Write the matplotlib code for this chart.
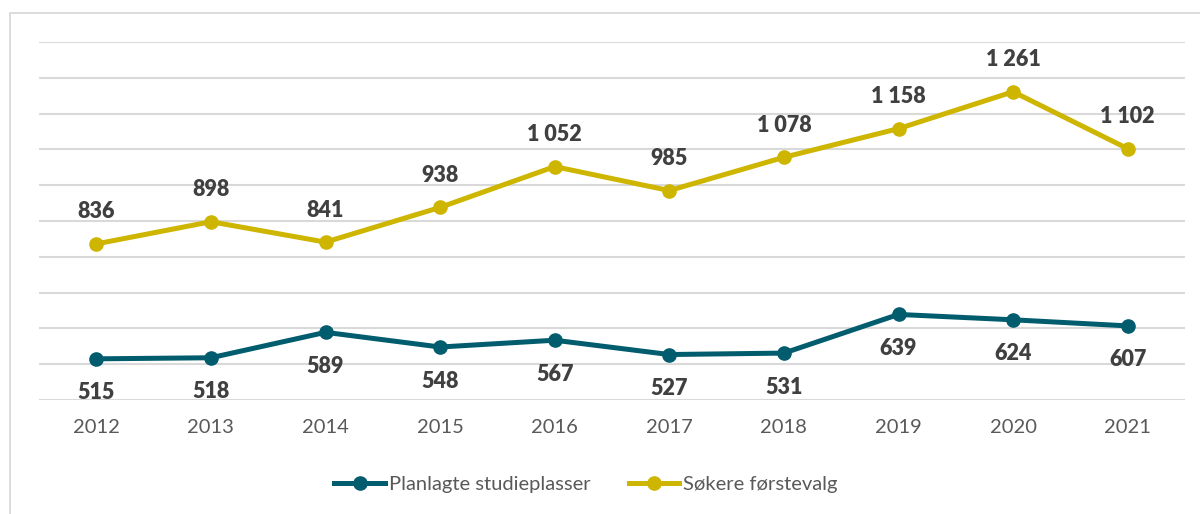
""" Planlagte studieplasser og søkere førstevalg 2012-2021 """
import matplotlib
matplotlib.use('Agg')
import matplotlib.pyplot as plt
from matplotlib.lines import Line2D

years = ['2012', '2013', '2014', '2015', '2016', '2017', '2018', '2019', '2020', '2021']
planlagte = [515, 518, 589, 548, 567, 527, 531, 639, 624, 607]
sokere = [836, 898, 841, 938, 1052, 985, 1078, 1158, 1261, 1102]

TEAL = '#015C6E'
YELLOW = '#CDB500'
GRID = '#D9D9D9'
TEXT = '#404040'
TICK = '#595959'

plt.rcParams['font.family'] = ['Lato', 'DejaVu Sans']


def fmt(v):
    return f'{v:,}'.replace(',', ' ')


fig = plt.figure(figsize=(12, 5.14), dpi=100)
ax = fig.add_axes([39 / 1200, 1 - 400 / 514, (1185 - 39) / 1200, (400 - 42) / 514])

x = list(range(len(years)))
ax.plot(x, planlagte, color=TEAL, lw=3.6, marker='o', ms=9.5,
        label='Planlagte studieplasser', zorder=3)
ax.plot(x, sokere, color=YELLOW, lw=3.6, marker='o', ms=9.5,
        label='Søkere førstevalg', zorder=3)

for i, v in enumerate(planlagte):
    ax.annotate(fmt(v), (i, v), xytext=(0, -24.5), textcoords='offset points',
                ha='center', va='center', fontsize=15.5, fontweight='heavy', color=TEXT)
for i, v in enumerate(sokere):
    ax.annotate(fmt(v), (i, v), xytext=(0, 23), textcoords='offset points',
                ha='center', va='center', fontsize=15.5, fontweight='heavy', color=TEXT)

ax.set_xlim(-0.5, len(years) - 0.5)
ax.set_ylim(400, 1400)
ax.set_yticks(range(400, 1401, 100))
ax.set_yticklabels([])
ax.set_xticks(x)
ax.set_xticklabels(years, fontsize=14.5, color=TICK)
ax.tick_params(axis='both', length=0)
ax.tick_params(axis='x', pad=14)
ax.grid(axis='y', color=GRID, lw=1.5, zorder=0)
for s in ax.spines.values():
    s.set_visible(False)

# chart frame
fig.add_artist(Line2D([10 / 1200, 10 / 1200, 1.0], [0, 1 - 13 / 514, 1 - 13 / 514],
                      transform=fig.transFigure, color=GRID, lw=1.3))

fig.legend(loc='center', bbox_to_anchor=(586 / 1200, 1 - 484 / 514), ncol=2, frameon=False,
           fontsize=14.5, labelcolor=TICK, handlelength=2.5, handletextpad=0.2,
           columnspacing=1.9)

fig.savefig('out.png', dpi=100)
